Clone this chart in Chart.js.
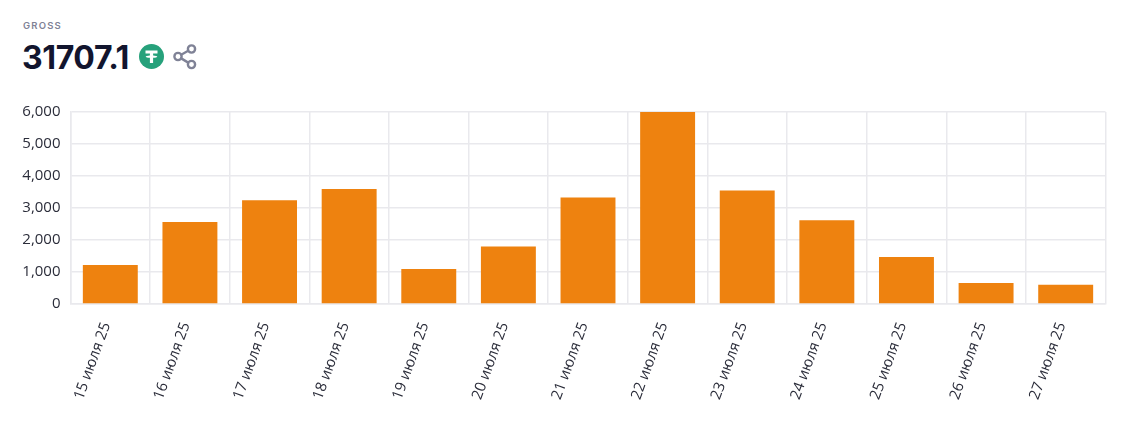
<!DOCTYPE html>
<html lang="ru">
  <head>
    <meta charset="UTF-8" />
    <title>Gross</title>
    <script src="https://cdn.jsdelivr.net/npm/chart.js"></script>
    <style>
      * {
        margin: 0;
        padding: 0;
        box-sizing: border-box;
      }

      body {
        width: 1143px;
        height: 443px;
        background: #fff;
        position: relative;
        overflow: hidden;
        font-family: "Open Sans", sans-serif;
      }

      .label {
        position: absolute;
        left: 23px;
        top: 20px;
        font: 600 9.5px Inter, sans-serif;
        letter-spacing: 1.2px;
        color: #7f8296;
      }

      .total {
        position: absolute;
        left: 22px;
        top: 38px;
        font: 700 32px/40px Inter, sans-serif;
        letter-spacing: -0.4px;
        color: #12152e;
      }

      .icon {
        position: absolute;
      }

      .chart-box {
        position: absolute;
        left: 0;
        top: 90px;
        width: 1143px;
        height: 340px;
      }
    </style>
  </head>
  <body>
    <div class="label">GROSS</div>
    <div class="total">31707.1</div>

    <svg class="icon" style="left: 139px; top: 44px" width="25" height="25" viewBox="0 0 25 25">
      <circle cx="12.5" cy="12.5" r="12.5" fill="#26a17b" />
      <path d="M6.5 6.5h12v3h-4.400v2.100c2.400.1 4.200.6 4.200 1.100s-1.800 1-4.200 1.100V19h-3.200v-5.200c-2.400-.1-4.200-.6-4.200-1.100s1.800-1 4.200-1.100V9.500H6.500z" fill="#fff" />
    </svg>

    <svg class="icon" style="left: 173px; top: 44px" width="24" height="26" viewBox="0 0 24 26" fill="none" stroke="#7f8296" stroke-width="2.4">
      <circle cx="18.500" cy="5" r="3.600" />
      <circle cx="5" cy="12.500" r="3.600" />
      <circle cx="18.500" cy="20.500" r="3.600" />
      <path d="M8.200 10.700l7-3.900M8.200 14.400l7 4.200" />
    </svg>

    <div class="chart-box"><canvas id="grossChart" width="1143" height="340"></canvas></div>

    <script>
      const categories = [
        "15 июля 25", "16 июля 25", "17 июля 25", "18 июля 25", "19 июля 25",
        "20 июля 25", "21 июля 25", "22 июля 25", "23 июля 25", "24 июля 25",
        "25 июля 25", "26 июля 25", "27 июля 25",
      ];
      const grossValues = [1220, 2560, 3240, 3590, 1090, 1800, 3330, 6000, 3550, 2620, 1470, 660, 600];
      const yTicks = [0, 1000, 2000, 3000, 4000, 5000, 6000];

      const gridColor = "#e9e9ed";
      const textColor = "#2b2d3a";

      new Chart(document.getElementById("grossChart"), {
        type: "bar",
        data: {
          labels: categories,
          datasets: [
            {
              data: grossValues,
              backgroundColor: "#ee820f",
              barPercentage: 0.69,
              categoryPercentage: 1,
            },
          ],
        },
        options: {
          responsive: false,
          animation: false,
          layout: { padding: { top: 22, right: 37.5, left: 0, bottom: 0 } },
          plugins: { legend: { display: false }, tooltip: { enabled: false } },
          scales: {
            x: {
              grid: { color: gridColor, drawTicks: false, lineWidth: 1.5 },
              border: { color: gridColor, width: 1.5 },
              ticks: {
                color: textColor,
                font: { family: "Open Sans", size: 15 },
                minRotation: 70,
                maxRotation: 70,
                padding: 16,
                labelOffset: -4,
                autoSkip: false,
              },
              afterFit: (scale) => {
                scale.height = 126;
              },
            },
            y: {
              min: 0,
              max: 6000,
              grid: { color: gridColor, drawTicks: false, lineWidth: 1.5 },
              border: { color: gridColor, width: 1.5 },
              afterBuildTicks: (scale) => {
                scale.ticks = yTicks.map((value) => ({ value }));
              },
              ticks: {
                color: textColor,
                font: { family: "Open Sans", size: 15 },
                padding: 10,
                callback: (v) => v.toLocaleString("en-US"),
              },
              afterFit: (scale) => {
                scale.width = 70.5;
              },
            },
          },
        },
      });
    </script>
  </body>
</html>
